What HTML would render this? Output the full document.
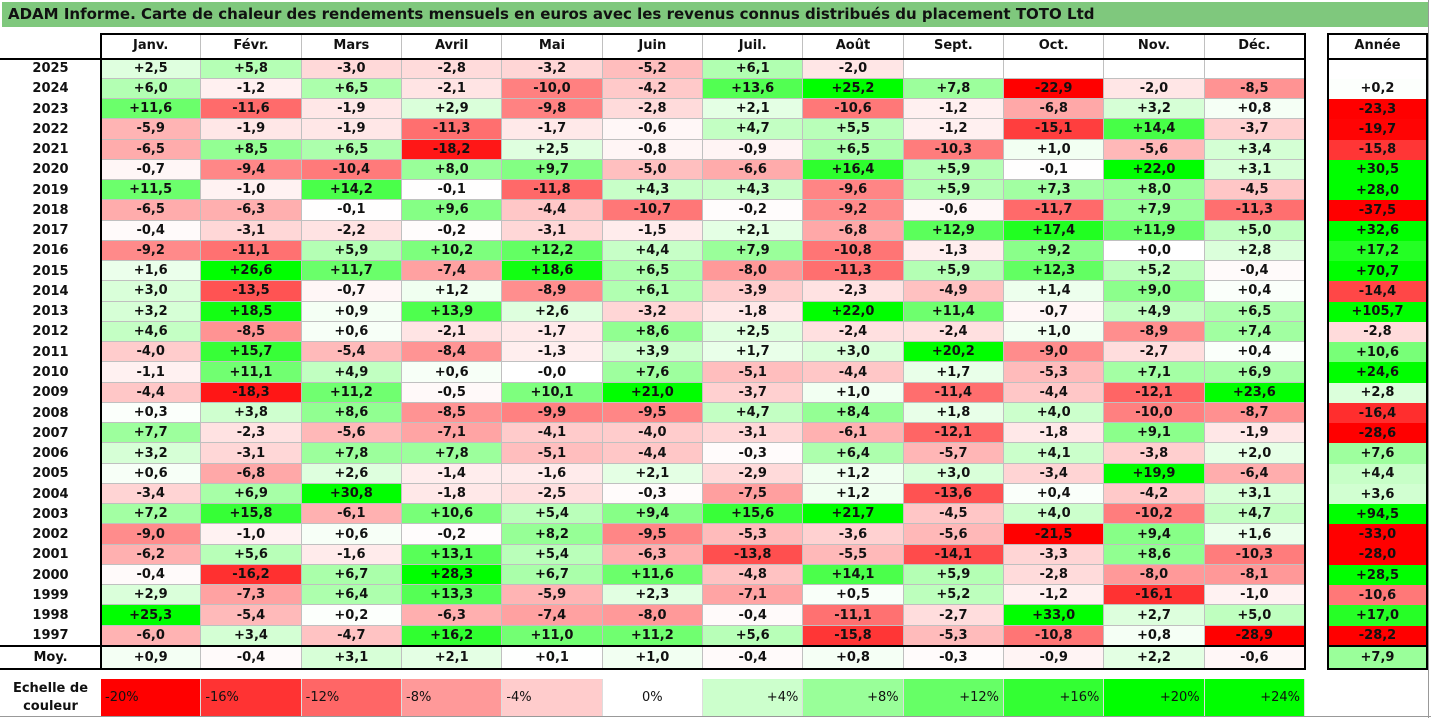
<!DOCTYPE html>
<html><head><meta charset="utf-8">
<style>
body{margin:0;width:1431px;height:718px;background:#fff;overflow:hidden;position:relative;font-family:"DejaVu Sans","Liberation Sans",sans-serif;}
.c{position:absolute;box-sizing:border-box;display:flex;align-items:center;justify-content:center;font-weight:bold;font-size:13px;color:#111;white-space:nowrap;}
.g{border-right:1px solid #c0c0c0;border-bottom:1px solid #c0c0c0;}
.ln{position:absolute;background:#000;}
#title{position:absolute;left:2px;top:2px;width:1426px;height:25px;background:#7fc87d;font-weight:bold;font-size:15px;line-height:25px;padding-left:6px;box-sizing:border-box;color:#111;}
</style></head><body>
<div id="title">ADAM Informe. Carte de chaleur des rendements mensuels en euros avec les revenus connus distribués du placement TOTO Ltd</div>
<div id="root"></div>
<script>
const months=["Janv.","Févr.","Mars","Avril","Mai","Juin","Juil.","Août","Sept.","Oct.","Nov.","Déc."];
const years=[2025,2024,2023,2022,2021,2020,2019,2018,2017,2016,2015,2014,2013,2012,2011,2010,2009,2008,2007,2006,2005,2004,2003,2002,2001,2000,1999,1998,1997];
const monthly=[
[2.5,5.8,-3.0,-2.8,-3.2,-5.2,6.1,-2.0,null,null,null,null],
[6.0,-1.2,6.5,-2.1,-10.0,-4.2,13.6,25.2,7.8,-22.9,-2.0,-8.5],
[11.6,-11.6,-1.9,2.9,-9.8,-2.8,2.1,-10.6,-1.2,-6.8,3.2,0.8],
[-5.9,-1.9,-1.9,-11.3,-1.7,-0.6,4.7,5.5,-1.2,-15.1,14.4,-3.7],
[-6.5,8.5,6.5,-18.2,2.5,-0.8,-0.9,6.5,-10.3,1.0,-5.6,3.4],
[-0.7,-9.4,-10.4,8.0,9.7,-5.0,-6.6,16.4,5.9,-0.1,22.0,3.1],
[11.5,-1.0,14.2,-0.1,-11.8,4.3,4.3,-9.6,5.9,7.3,8.0,-4.5],
[-6.5,-6.3,-0.1,9.6,-4.4,-10.7,-0.2,-9.2,-0.6,-11.7,7.9,-11.3],
[-0.4,-3.1,-2.2,-0.2,-3.1,-1.5,2.1,-6.8,12.9,17.4,11.9,5.0],
[-9.2,-11.1,5.9,10.2,12.2,4.4,7.9,-10.8,-1.3,9.2,0.0,2.8],
[1.6,26.6,11.7,-7.4,18.6,6.5,-8.0,-11.3,5.9,12.3,5.2,-0.4],
[3.0,-13.5,-0.7,1.2,-8.9,6.1,-3.9,-2.3,-4.9,1.4,9.0,0.4],
[3.2,18.5,0.9,13.9,2.6,-3.2,-1.8,22.0,11.4,-0.7,4.9,6.5],
[4.6,-8.5,0.6,-2.1,-1.7,8.6,2.5,-2.4,-2.4,1.0,-8.9,7.4],
[-4.0,15.7,-5.4,-8.4,-1.3,3.9,1.7,3.0,20.2,-9.0,-2.7,0.4],
[-1.1,11.1,4.9,0.6,-0,7.6,-5.1,-4.4,1.7,-5.3,7.1,6.9],
[-4.4,-18.3,11.2,-0.5,10.1,21.0,-3.7,1.0,-11.4,-4.4,-12.1,23.6],
[0.3,3.8,8.6,-8.5,-9.9,-9.5,4.7,8.4,1.8,4.0,-10.0,-8.7],
[7.7,-2.3,-5.6,-7.1,-4.1,-4.0,-3.1,-6.1,-12.1,-1.8,9.1,-1.9],
[3.2,-3.1,7.8,7.8,-5.1,-4.4,-0.3,6.4,-5.7,4.1,-3.8,2.0],
[0.6,-6.8,2.6,-1.4,-1.6,2.1,-2.9,1.2,3.0,-3.4,19.9,-6.4],
[-3.4,6.9,30.8,-1.8,-2.5,-0.3,-7.5,1.2,-13.6,0.4,-4.2,3.1],
[7.2,15.8,-6.1,10.6,5.4,9.4,15.6,21.7,-4.5,4.0,-10.2,4.7],
[-9.0,-1.0,0.6,-0.2,8.2,-9.5,-5.3,-3.6,-5.6,-21.5,9.4,1.6],
[-6.2,5.6,-1.6,13.1,5.4,-6.3,-13.8,-5.5,-14.1,-3.3,8.6,-10.3],
[-0.4,-16.2,6.7,28.3,6.7,11.6,-4.8,14.1,5.9,-2.8,-8.0,-8.1],
[2.9,-7.3,6.4,13.3,-5.9,2.3,-7.1,0.5,5.2,-1.2,-16.1,-1.0],
[25.3,-5.4,0.2,-6.3,-7.4,-8.0,-0.4,-11.1,-2.7,33.0,2.7,5.0],
[-6.0,3.4,-4.7,16.2,11.0,11.2,5.6,-15.8,-5.3,-10.8,0.8,-28.9]];
const annual=[null,0.2,-23.3,-19.7,-15.8,30.5,28.0,-37.5,32.6,17.2,70.7,-14.4,105.7,-2.8,10.6,24.6,2.8,-16.4,-28.6,7.6,4.4,3.6,94.5,-33.0,-28.0,28.5,-10.6,17.0,-28.2];
const averages=[0.9,-0.4,3.1,2.1,0.1,1.0,-0.4,0.8,-0.3,-0.9,2.2,-0.6];
const avgAnnual=7.9;
const scaleSteps=[-20,-16,-12,-8,-4,0,4,8,12,16,20,24];

const root=document.getElementById('root');
const X0=101,CW=(1305-101)/12,HT=33,HB=58.5,RH=(646-58.5)/29,AX=1328,AW=99;
function colX(i){return X0+i*CW;}
function rowY(r){return HB+r*RH;}
function color(v){if(v===null)return '#fff';let t=Math.min(Math.abs(v)/20,1);let k=Math.round(255*(1-t));return (v<0||Object.is(v,-0))?`rgb(255,${k},${k})`:`rgb(${k},255,${k})`;}
function fmt(v){if(v===null)return '';let neg=v<0||Object.is(v,-0);return (neg?'-':'+')+Math.abs(v).toFixed(1).replace('.',',');}
function cell(x,y,w,h,txt,bg,name,cls){const d=document.createElement('div');d.className='c '+(cls||'');
d.style.cssText+=`left:${x}px;top:${y}px;width:${w}px;height:${h}px;background:${bg||'transparent'};`;d.textContent=txt;


root.appendChild(d);return d;}
function line(x,y,w,h,name,col){const d=document.createElement('div');d.className='ln';d.style.cssText=`left:${x}px;top:${y}px;width:${w}px;height:${h}px;`+(col?`background:${col};`:'');


root.appendChild(d);}
months.forEach((m,i)=>cell(colX(i),HT,CW,HB-HT,m,'#fff','month-header','g'));
cell(AX,HT,AW,HB-HT,'Année','#fff','year-total-header');
years.forEach((y,r)=>{
  cell(0,rowY(r),X0,RH,String(y),'#fff','year-label');
  monthly[r].forEach((v,i)=>cell(colX(i),rowY(r),CW,RH,fmt(v),color(v),'cell-'+y+'-'+(i+1),'g'));
  cell(AX,rowY(r),AW,RH,fmt(annual[r]),color(annual[r]),'annual-'+y);
});
const MY=646,MH=23;
cell(0,MY,X0,MH,'Moy.','#fff','average-label');
averages.forEach((v,i)=>cell(colX(i),MY,CW,MH,fmt(v),color(v),'average-'+months[i],'g'));
cell(AX,MY,AW,MH,fmt(avgAnnual),color(avgAnnual),'average-annual');
line(100,HT,1206,2,'table-top-border');
line(0,HB-1,1306,2,'header-bottom-border');
line(0,MY-1,1306,2,'average-top-border');
line(0,MY+MH-1,1306,2,'average-bottom-border');
line(100,HT,2,MY+MH-HT+1,'table-left-border');
line(1304,HT,2,MY+MH-HT+1,'table-right-border');
line(AX-1,HT,2,MY+MH-HT+1,'annual-left-border');
line(AX+AW-1,HT,2,MY+MH-HT+1,'annual-right-border');
line(AX-1,HT,AW+1,2,'annual-top-border');
line(AX-1,HB-1,AW+1,2,'annual-header-border');
line(AX-1,MY-1,AW+1,2,'annual-avg-top');
line(AX-1,MY+MH-1,AW+1,2,'annual-avg-bottom');
line(1428,0,1,718,'outer-right-border','#999');
line(0,716,1431,1,'outer-bottom-border','#999');
const SY=679,SH=37;
const lab=cell(0,SY,X0,SH,'','#fff','scale-label');lab.innerHTML='Echelle de<br>couleur';lab.style.fontSize='13px';lab.style.textAlign='center';lab.style.lineHeight='18px';
scaleSteps.forEach((s,i)=>{const d=cell(colX(i),SY,CW,SH,(s>0?'+':'')+s+'%',color(s),'scale-step');
d.style.fontWeight='normal';d.style.fontSize='13px';d.style.borderRight='1px solid #ddd';
d.style.justifyContent=s<0?'flex-start':(s>0?'flex-end':'center');d.style.padding='0 4px';});
</script>
</body></html>
